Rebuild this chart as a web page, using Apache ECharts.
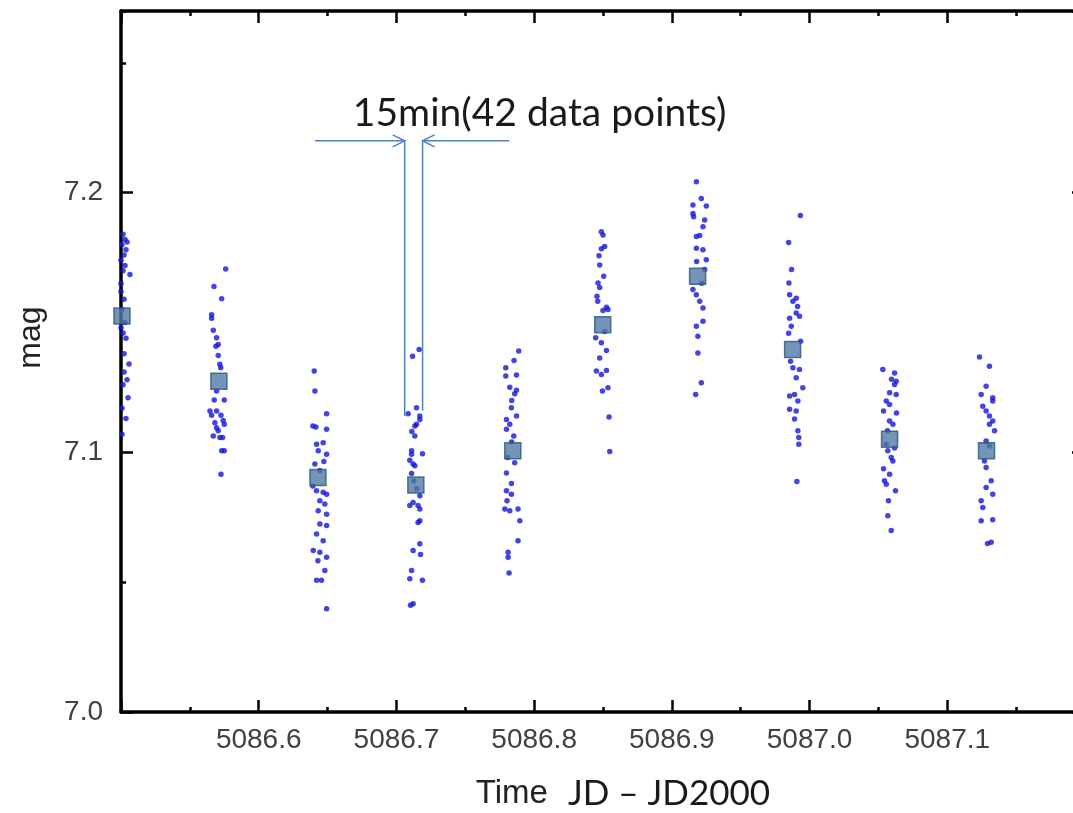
<!DOCTYPE html>
<html>
<head>
<meta charset="utf-8">
<title>mag vs time</title>
<script src="https://cdn.jsdelivr.net/npm/echarts@6/dist/echarts.min.js"></script>
<style>
  html, body { margin: 0; padding: 0; background: #fff; }
  #chart { width: 1073px; height: 813px; }
</style>
</head>
<body>
<div id="chart"></div>
<script>
// each block: [time (JD - JD2000), mag]
const cluster1 = [[5086.5015,7.184],[5086.5029,7.182],[5086.5007,7.180],[5086.5036,7.178],[5086.5022,7.176],[5086.5000,7.174],[5086.5029,7.172],[5086.5015,7.170],[5086.5065,7.1685],[5086.5000,7.165],[5086.5000,7.162],[5086.5022,7.159],[5086.5007,7.155],[5086.5029,7.150],[5086.5000,7.148],[5086.5015,7.146],[5086.5036,7.144],[5086.5022,7.138],[5086.5058,7.134],[5086.5022,7.131],[5086.5044,7.128],[5086.5015,7.126],[5086.5051,7.121],[5086.5007,7.117],[5086.5036,7.113],[5086.5007,7.107],[5086.5044,7.181]];
const cluster2 = [[5086.5760,7.1706],[5086.5675,7.1639],[5086.5731,7.1592],[5086.5658,7.1530],[5086.5658,7.1517],[5086.5670,7.1470],[5086.5694,7.1441],[5086.5706,7.1415],[5086.5689,7.1409],[5086.5706,7.1373],[5086.5718,7.1339],[5086.5724,7.1326],[5086.5694,7.1236],[5086.5677,7.1202],[5086.5750,7.1202],[5086.5658,7.1143],[5086.5726,7.1143],[5086.5682,7.1114],[5086.5750,7.1108],[5086.5706,7.1083],[5086.5738,7.1057],[5086.5646,7.1159],[5086.5694,7.1159],[5086.5742,7.1123],[5086.5694,7.1095],[5086.5670,7.1063],[5086.5718,7.1057],[5086.5731,7.1006],[5086.5750,7.1006],[5086.5726,7.0916]];
const cluster3 = [[5086.6403,7.1313],[5086.6408,7.1236],[5086.6493,7.1149],[5086.6393,7.1102],[5086.6415,7.1098],[5086.6493,7.1089],[5086.6420,7.1031],[5086.6468,7.1037],[5086.6432,7.1006],[5086.6493,7.0993],[5086.6408,7.0955],[5086.6473,7.0965],[5086.6444,7.0930],[5086.6393,7.0870],[5086.6420,7.0852],[5086.6468,7.0846],[5086.6493,7.0839],[5086.6444,7.0814],[5086.6480,7.0801],[5086.6432,7.0775],[5086.6493,7.0762],[5086.6444,7.0724],[5086.6493,7.0718],[5086.6420,7.0686],[5086.6468,7.0660],[5086.6396,7.0622],[5086.6444,7.0615],[5086.6493,7.0596],[5086.6430,7.0583],[5086.6480,7.0545],[5086.6420,7.0507],[5086.6456,7.0507],[5086.6493,7.0398]];
const cluster4 = [[5086.7165,7.1396],[5086.7117,7.1370],[5086.7146,7.1172],[5086.7085,7.1149],[5086.7170,7.1140],[5086.7170,7.1127],[5086.7134,7.1102],[5086.7146,7.1108],[5086.7112,7.1080],[5086.7134,7.1063],[5086.7110,7.1006],[5086.7110,7.0993],[5086.7189,7.0995],[5086.7097,7.0970],[5086.7121,7.0955],[5086.7134,7.0948],[5086.7110,7.0919],[5086.7126,7.0890],[5086.7148,7.0860],[5086.7170,7.0833],[5086.7121,7.0807],[5086.7097,7.0795],[5086.7157,7.0795],[5086.7170,7.0782],[5086.7170,7.0737],[5086.7157,7.0730],[5086.7170,7.0648],[5086.7121,7.0622],[5086.7175,7.0607],[5086.7110,7.0545],[5086.7097,7.0513],[5086.7189,7.0507],[5086.7121,7.0417],[5086.7102,7.0411]];
const cluster5 = [[5086.7888,7.1390],[5086.7854,7.1354],[5086.7794,7.1326],[5086.7794,7.1294],[5086.7872,7.1298],[5086.7823,7.1251],[5086.7872,7.1239],[5086.7859,7.1226],[5086.7837,7.1200],[5086.7835,7.1172],[5086.7872,7.1140],[5086.7799,7.1127],[5086.7823,7.1108],[5086.7799,7.1089],[5086.7852,7.1063],[5086.7837,7.1040],[5086.7808,7.0980],[5086.7859,7.0960],[5086.7799,7.0921],[5086.7835,7.0880],[5086.7799,7.0852],[5086.7835,7.0839],[5086.7803,7.0814],[5086.7787,7.0782],[5086.7823,7.0775],[5086.7883,7.0782],[5086.7896,7.0737],[5086.7883,7.0660],[5086.7811,7.0615],[5086.7811,7.0596],[5086.7818,7.0535]];
const cluster6 = [[5086.8488,7.1850],[5086.8500,7.1837],[5086.8512,7.1793],[5086.8488,7.1784],[5086.8471,7.1757],[5086.8476,7.1722],[5086.8505,7.1678],[5086.8464,7.1652],[5086.8476,7.1635],[5086.8456,7.1601],[5086.8462,7.1582],[5086.8525,7.1559],[5086.8500,7.1546],[5086.8536,7.1550],[5086.8512,7.1466],[5086.8447,7.1441],[5086.8488,7.1422],[5086.8525,7.1392],[5086.8476,7.1363],[5086.8452,7.1313],[5086.8488,7.1300],[5086.8525,7.1315],[5086.8496,7.1236],[5086.8536,7.1249],[5086.8544,7.1136],[5086.8549,7.1003]];
const cluster7 = [[5086.9178,7.2042],[5086.9214,7.1978],[5086.9153,7.1953],[5086.9250,7.1949],[5086.9153,7.1920],[5086.9158,7.1908],[5086.9238,7.1895],[5086.9226,7.1869],[5086.9202,7.1835],[5086.9178,7.1831],[5086.9178,7.1786],[5086.9226,7.1780],[5086.9250,7.1742],[5086.9180,7.1735],[5086.9238,7.1704],[5086.9216,7.1651],[5086.9153,7.1627],[5086.9178,7.1607],[5086.9202,7.1582],[5086.9226,7.1556],[5086.9226,7.1505],[5086.9178,7.1486],[5086.9189,7.1447],[5086.9189,7.1383],[5086.9214,7.1268],[5086.9173,7.1223]];
const cluster8 = [[5086.9933,7.1912],[5086.9848,7.1808],[5086.9869,7.1704],[5086.9850,7.1652],[5086.9855,7.1607],[5086.9903,7.1594],[5086.9879,7.1582],[5086.9913,7.1562],[5086.9903,7.1537],[5086.9855,7.1517],[5086.9927,7.1524],[5086.9867,7.1486],[5086.9848,7.1459],[5086.9935,7.1428],[5086.9862,7.1351],[5086.9879,7.1326],[5086.9927,7.1319],[5086.9903,7.1287],[5086.9951,7.1249],[5086.9891,7.1223],[5086.9855,7.1217],[5086.9915,7.1198],[5086.9855,7.1166],[5086.9903,7.1159],[5086.9891,7.1129],[5086.9915,7.1083],[5086.9922,7.1057],[5086.9922,7.1031],[5086.9908,7.0888]];
const cluster9 = [[5087.0532,7.1319],[5087.0617,7.1306],[5087.0595,7.1282],[5087.0629,7.1274],[5087.0617,7.1261],[5087.0581,7.1230],[5087.0629,7.1223],[5087.0557,7.1198],[5087.0581,7.1184],[5087.0537,7.1159],[5087.0631,7.1152],[5087.0581,7.1121],[5087.0605,7.1108],[5087.0566,7.1083],[5087.0557,7.1031],[5087.0617,7.1017],[5087.0568,7.1006],[5087.0593,7.0980],[5087.0605,7.0967],[5087.0537,7.0937],[5087.0581,7.0916],[5087.0544,7.0891],[5087.0557,7.0877],[5087.0624,7.0852],[5087.0573,7.0814],[5087.0568,7.0756],[5087.0593,7.0699]];
const cluster10 = [[5087.1234,7.1367],[5087.1306,7.1332],[5087.1282,7.1255],[5087.1246,7.1223],[5087.1330,7.1210],[5087.1330,7.1198],[5087.1258,7.1178],[5087.1282,7.1159],[5087.1306,7.1140],[5087.1330,7.1121],[5087.1306,7.1108],[5087.1343,7.1083],[5087.1282,7.1044],[5087.1306,7.1025],[5087.1270,7.0967],[5087.1282,7.0942],[5087.1319,7.0891],[5087.1282,7.0865],[5087.1330,7.0839],[5087.1246,7.0814],[5087.1258,7.0788],[5087.1246,7.0737],[5087.1330,7.0740],[5087.1319,7.0654],[5087.1292,7.0649]];

// block means (squares)
const meanTime = [5086.5007, 5086.5711, 5086.6430, 5086.7141, 5086.7845, 5086.8498, 5086.9187, 5086.9877, 5087.0581, 5087.1285];
const meanMag = [7.1525, 7.1274, 7.0903, 7.0874, 7.1006, 7.1492, 7.1678, 7.1396, 7.1051, 7.1006];

// axis ranges
const xMin = 5086.5, xMax = 5087.2, xStep = 0.1;
const yMin = 7.0, yMax = 7.27, yStep = 0.1, yMinorStep = 0.05;

// 15 min window note around the 4th block
const arrowTimes = [5086.641, 5086.706, 5086.719, 5086.782]; // left tail, left tip, right tip, right tail
const arrowMag = 7.22;
const windowBottomMag = [7.114, 7.116];
const noteTime = 5086.804, noteMag = 7.2305;
const noteText = '15min(42 data points)';

const allPoints = [].concat(cluster1, cluster2, cluster3, cluster4, cluster5,
    cluster6, cluster7, cluster8, cluster9, cluster10);
const means = meanTime.map((t, i) => [t, meanMag[i]]);

const ink = '#000';
const labelFont = 'Liberation Sans';

function drawNote(params, api) {
    let style = { stroke: '#4f81bd', lineWidth: 1.5, fill: null };
    let lt = api.coord([arrowTimes[0], arrowMag]);
    let l = api.coord([arrowTimes[1], arrowMag]);
    let r = api.coord([arrowTimes[2], arrowMag]);
    let rt = api.coord([arrowTimes[3], arrowMag]);
    let lb = api.coord([arrowTimes[1], windowBottomMag[0]]);
    let rb = api.coord([arrowTimes[2], windowBottomMag[1]]);
    let txt = api.coord([noteTime, noteMag]);
    let h = 12, w = 6;
    return {
        type: 'group',
        children: [
            { type: 'line', shape: { x1: lt[0], y1: lt[1], x2: l[0], y2: l[1] }, style: style },
            { type: 'polyline', shape: { points: [[l[0] - h, l[1] - w], [l[0], l[1]], [l[0] - h, l[1] + w]] }, style: style },
            { type: 'line', shape: { x1: rt[0], y1: rt[1], x2: r[0], y2: r[1] }, style: style },
            { type: 'polyline', shape: { points: [[r[0] + h, r[1] - w], [r[0], r[1]], [r[0] + h, r[1] + w]] }, style: style },
            { type: 'line', shape: { x1: l[0], y1: l[1], x2: lb[0], y2: lb[1] }, style: style },
            { type: 'line', shape: { x1: r[0], y1: r[1], x2: rb[0], y2: rb[1] }, style: style },
            {
                type: 'text', x: txt[0], y: txt[1],
                style: {
                    text: noteText, fontFamily: 'Lato', fontSize: 39, fill: '#1a1a1a',
                    align: 'center', verticalAlign: 'middle'
                }
            }
        ]
    };
}

let option = {
    backgroundColor: '#fff',
    animation: false,
    grid: { left: 121, top: 11, right: -12, bottom: 101, outerBoundsMode: 'none' },
    xAxis: [
        {
            type: 'value', position: 'bottom', min: xMin, max: xMax, interval: xStep,
            axisLine: { lineStyle: { color: ink, width: 3.5 } },
            axisTick: { inside: true, length: 12, lineStyle: { color: ink, width: 2.5 } },
            minorTick: { show: true, splitNumber: 2, length: 5, lineStyle: { color: ink, width: 2.5 } },
            splitLine: { show: false },
            axisLabel: {
                showMinLabel: false, showMaxLabel: false, margin: 14,
                fontFamily: labelFont, fontSize: 28, color: '#404040',
                formatter: v => v.toFixed(1)
            },
            name: '{a|Time}      {b|JD \u2013 JD2000}',
            nameLocation: 'middle',
            nameGap: 64,
            nameTextStyle: {
                padding: [0, 0, 0, 40],
                rich: {
                    a: { fontFamily: labelFont, fontSize: 33, color: '#222' },
                    b: { fontFamily: 'Lato', fontSize: 35, color: '#1a1a1a' }
                }
            }
        },
        {
            type: 'value', position: 'top', min: xMin, max: xMax, interval: xStep,
            axisLine: { lineStyle: { color: ink, width: 3.5 } },
            axisTick: { inside: true, length: 12, lineStyle: { color: ink, width: 2.5 } },
            minorTick: { show: true, splitNumber: 2, length: 5, lineStyle: { color: ink, width: 2.5 } },
            splitLine: { show: false },
            axisLabel: { show: false }
        }
    ],
    yAxis: [
        {
            type: 'value', position: 'left', min: yMin, max: yMax, interval: yStep,
            axisLine: { lineStyle: { color: ink, width: 3.5 } },
            axisTick: { inside: true, length: 12, lineStyle: { color: ink, width: 2.5 } },
            splitLine: { show: false },
            axisLabel: {
                showMaxLabel: false, margin: 18,
                fontFamily: labelFont, fontSize: 28, color: '#404040',
                formatter: v => v.toFixed(1)
            },
            name: 'mag',
            nameLocation: 'middle',
            nameGap: 74,
            nameTextStyle: { fontFamily: labelFont, fontSize: 32, color: '#222', padding: [0, 0, 0, 48] }
        },
        {
            // minor ticks
            type: 'value', position: 'left', min: yMin, max: yMax, interval: yMinorStep,
            axisLine: { show: false },
            axisTick: { inside: true, length: 5, lineStyle: { color: ink, width: 2.5 } },
            splitLine: { show: false },
            axisLabel: { show: false }
        },
        {
            type: 'value', position: 'right', min: yMin, max: yMax, interval: yStep,
            axisLine: { lineStyle: { color: ink, width: 3.5 } },
            axisTick: { inside: true, length: 13, lineStyle: { color: ink, width: 2.5 } },
            splitLine: { show: false },
            axisLabel: { show: false }
        }
    ],
    series: [
        {
            name: 'data points',
            type: 'scatter',
            data: allPoints,
            symbolSize: 5.5,
            itemStyle: { color: '#1515d8' },
            z: 3
        },
        {
            name: 'mean',
            type: 'scatter',
            data: means,
            symbol: 'rect',
            symbolSize: 16,
            itemStyle: { color: '#4f7aa6', borderColor: '#30557d', borderWidth: 1.5 },
            z: 4
        },
        {
            name: 'note',
            type: 'custom',
            data: [[arrowTimes[1], arrowMag]],
            renderItem: drawNote,
            silent: true,
            clip: false,
            z: 5
        }
    ]
};

let myChart = echarts.init(document.getElementById('chart'));
myChart.setOption(option);
window.addEventListener('resize', function () {
    myChart.resize();
});
</script>
</body>
</html>
